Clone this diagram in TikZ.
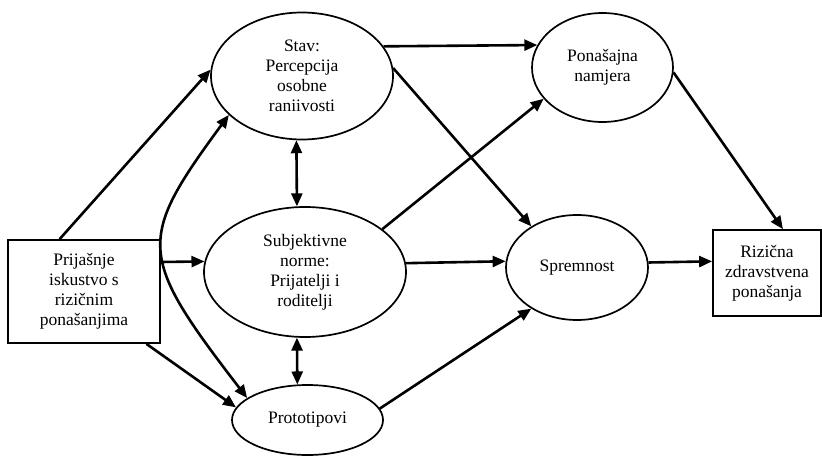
\documentclass[tikz,border=0pt]{standalone}
\usepackage{fontspec}
\setmainfont{Liberation Serif}
\usetikzlibrary{shapes.geometric,arrows.meta}

\begin{document}
\begin{tikzpicture}[x=1pt, y=-1pt,
		every node/.style={align=center, font=\fontsize{17.5}{20}\selectfont, inner sep=0pt},
		stanje/.style={ellipse, draw, line width=1.7pt},
		okvir/.style={rectangle, draw, line width=1.7pt},
		veza/.style={-{Triangle[length=13pt, width=11pt]}, line width=2.6pt},
		dvoveza/.style={{Triangle[length=13pt, width=11pt]}-{Triangle[length=13pt, width=11pt]}, line width=2.6pt}]
		\useasboundingbox (0,0) rectangle (822,457);
		% cvorovi
		\node[okvir, minimum width=152pt, minimum height=103pt] (iskustvo) at (84,291.5) {Prijašnje\\iskustvo s\\rizičnim\\ponašanjima};
		\node[stanje, minimum width=182pt, minimum height=127pt] (stav) at (302,76) {Stav:\\Percepcija\\osobne\\raniivosti};
		\node[stanje, minimum width=202pt, minimum height=130pt] (norme) at (305,272) {Subjektivne\\norme:\\Prijatelji i\\roditelji};
		\node[stanje, minimum width=151pt, minimum height=70pt] (prototip) at (307.5,420) {Prototipovi};
		\node[stanje, minimum width=141pt, minimum height=109pt] (namjera) at (602.5,67.5) {Ponašajna\\namjera};
		\node[stanje, minimum width=142pt, minimum height=105pt] (spremnost) at (577,267.5) {Spremnost};
		\node[okvir, minimum width=108pt, minimum height=86pt] (ishod) at (767,273) {Rizična\\zdravstvena\\ponašanja};
		% veze
		\draw[veza] (iskustvo.115) -- (stav.176.2);
		\draw[veza] (iskustvo.21.2) -- (norme.174.3);
		\draw[veza] (iskustvo.320.7) -- (prototip.170.5);
		\draw[dvoveza] (stav.208.1) .. controls (137,240) and (137,255) .. (prototip.160.9);
		\draw[dvoveza] (stav.265) -- (norme.97);
		\draw[dvoveza] (norme.263) -- (prototip.106.7);
		\draw[veza] (stav.20.5) -- (namjera.161.6);
		\draw[veza] (stav.5) -- (spremnost.138.7);
		\draw[veza] (norme.29.2) -- (namjera.208.9);
		\draw[veza] (norme.5.7) -- (spremnost.175.5);
		\draw[veza] (prototip.9.1) -- (spremnost.222.1);
		\draw[veza] (namjera.356.4) -- (ishod.70.8);
		\draw[veza] (spremnost.4.5) -- (ishod.168.5);
	\end{tikzpicture}
\end{document}
